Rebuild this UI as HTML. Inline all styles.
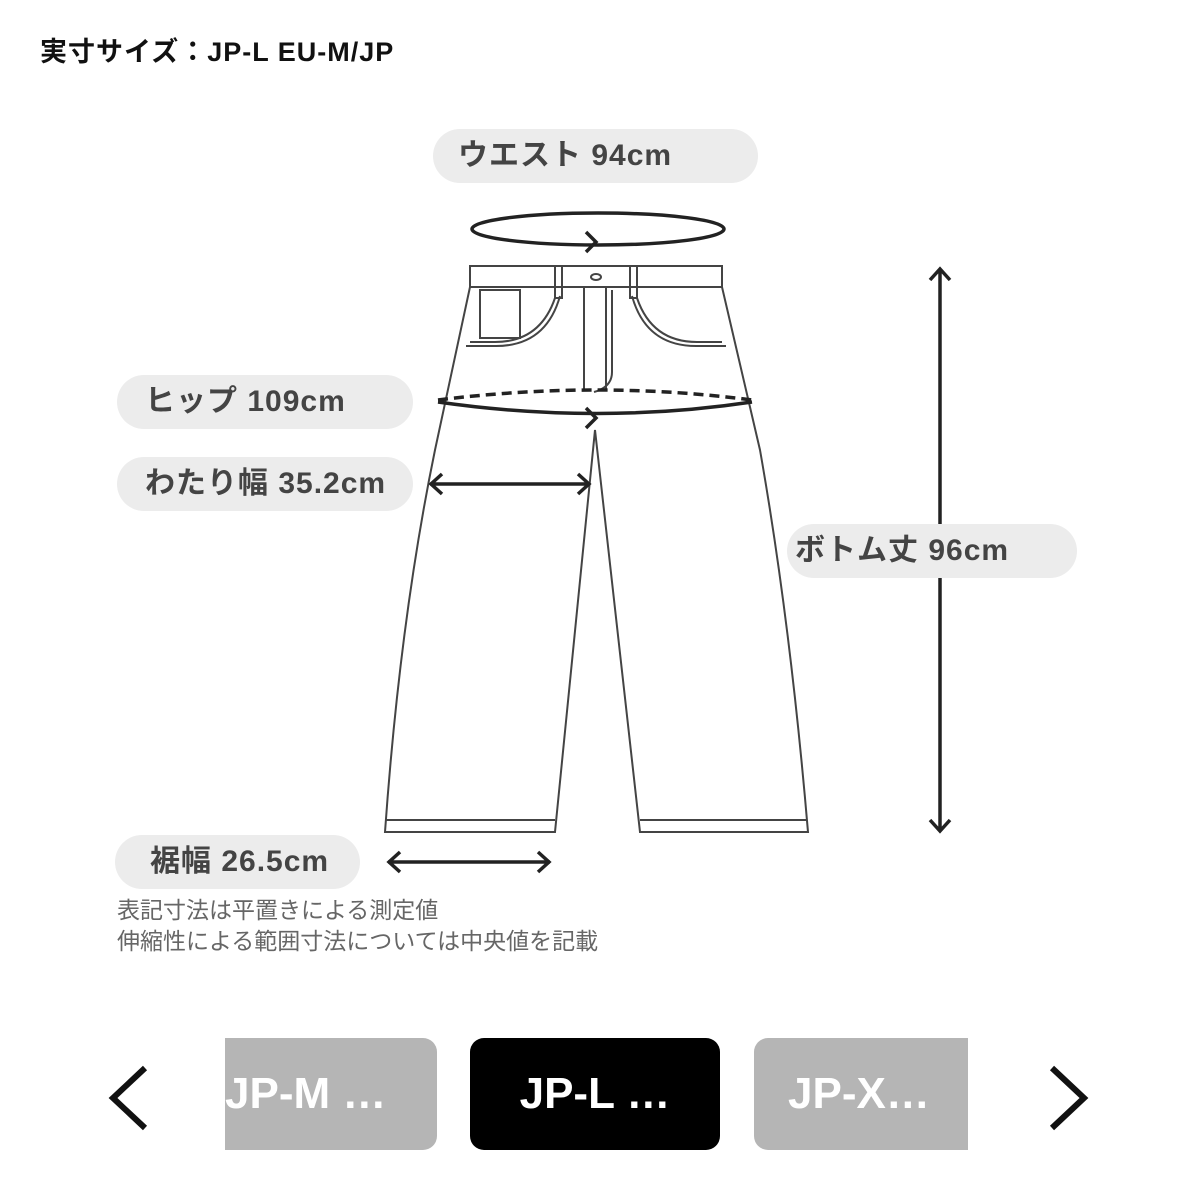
<!DOCTYPE html>
<html><head><meta charset="utf-8"><style>
body{margin:0;width:1200px;height:1200px;background:#fff;position:relative;overflow:hidden;font-family:"Liberation Sans","Noto Sans CJK JP",sans-serif}
.pill{position:absolute;background:#ececec;border-radius:28px;color:#444;font-weight:bold;font-size:30px;letter-spacing:1px;line-height:54px;height:54px;white-space:nowrap}
.btn{position:absolute;top:1038px;height:112px;border-radius:14px;font-weight:bold;font-size:44px;line-height:112px;color:#fff;white-space:nowrap;overflow:hidden}
</style></head><body>
<div style="position:absolute;left:40px;top:30px;font-size:27px;letter-spacing:1px;font-weight:bold;color:#111">実寸サイズ：JP-L EU-M/JP</div>
<svg width="1200" height="1200" style="position:absolute;left:0;top:0" fill="none" stroke="#444" stroke-width="2">
<path d="M470 266H722V287H470Z"/>
<path d="M555 266V298H562V266M630 266V298H637V266"/>
<ellipse cx="596" cy="277" rx="5" ry="3"/>
<path d="M584 287V390M606 287V390M612 290V372q0 15 -18 20"/>
<path d="M480 290h40v48h-40zM470 342h25q45 0 60-44M466 346h30q50 0 64-50"/>
<path d="M722 342h-25q-45 0-60-44M726 346h-30q-50 0-64-50"/>
<path d="M470 287L435 450Q400 620 385 832H555L595 430L640 832H808Q790 620 760 450L722 287"/>
<path d="M386 820H555M640 820H807"/>
<g stroke="#222" stroke-width="3.5">
<ellipse cx="598" cy="229" rx="126" ry="16"/>
<path d="M438 400Q598 380 752 400" stroke-dasharray="10 6"/>
<path d="M438 402Q598 425 752 402"/>
<path d="M430 484H590M442 474l-11 10 11 10M578 474l11 10-11 10"/>
<path d="M388 862H550M400 852l-11 10 11 10M538 852l11 10-11 10"/>
<path d="M940 270V830M930 280l10-11 10 11M930 820l10 11 10-11"/>
<path d="M586 232l10 10-10 10M586 408l10 10-10 10"/>
</g>
<g stroke="#111" stroke-width="6"><path d="M145 1068l-32 30 32 30M1052 1068l32 30-32 30"/></g>
</svg>
<div class="pill" style="left:433px;top:129px;width:325px;"><span style="margin-left:25px">ウエスト 94cm</span></div>
<div class="pill" style="left:117px;top:375px;width:296px;"><span style="margin-left:28px">ヒップ 109cm</span></div>
<div class="pill" style="left:117px;top:457px;width:296px;"><span style="margin-left:28px">わたり幅 35.2cm</span></div>
<div class="pill" style="left:787px;top:524px;width:290px;"><span style="margin-left:8px">ボトム丈 96cm</span></div>
<div class="pill" style="left:115px;top:835px;width:245px;"><span style="margin-left:35px">裾幅 26.5cm</span></div>
<div style="position:absolute;left:117px;top:895px;font-size:23px;line-height:31px;color:#666;white-space:nowrap">表記寸法は平置きによる測定値<br>伸縮性による範囲寸法については中央値を記載</div>
<div class="btn" style="left:225px;width:212px;background:#b5b5b5;border-radius:0 14px 14px 0;"><span style="margin-left:0px">JP-M …</span></div>
<div class="btn" style="left:470px;width:250px;background:#000;text-align:center">JP-L …</div>
<div class="btn" style="left:754px;width:214px;background:#b5b5b5;border-radius:14px 0 0 14px;"><span style="margin-left:34px">JP-X…</span></div>
</body></html>
